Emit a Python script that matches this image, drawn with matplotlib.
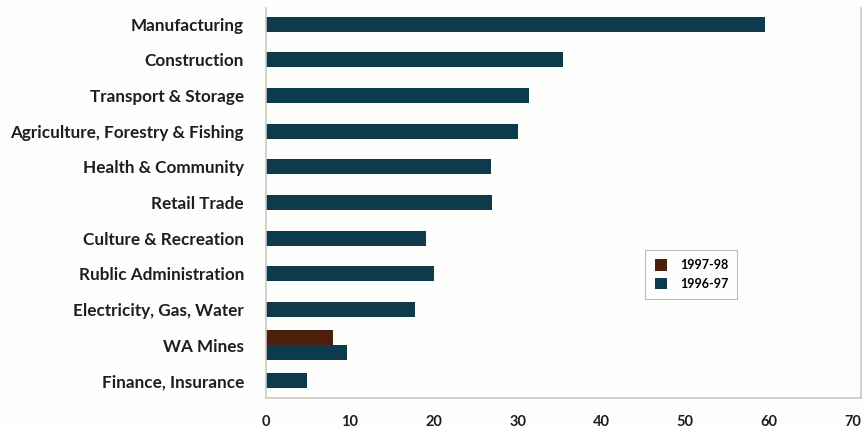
import numpy as np
import matplotlib.pyplot as plt

# Industry categories, top to bottom
industries = ['Manufacturing', 'Construction', 'Transport & Storage',
              'Agriculture, Forestry & Fishing', 'Health & Community',
              'Retail Trade', 'Culture & Recreation', 'Rublic Administration',
              'Electricity, Gas, Water', 'WA Mines', 'Finance, Insurance']
vals_9697 = [59.5, 35.4, 31.4, 30.1, 26.8, 26.9, 19.1, 20.0, 17.8, 9.7, 4.9]
# only WA Mines has a 1997-98 figure
mines_9798 = 8.0
xticks = [0, 10, 20, 30, 40, 50, 60, 70]

teal = '#0e3b4b'
brown = '#4b1f0c'
bg = '#fefefc'

plt.rcParams['font.family'] = ['Lato', 'DejaVu Sans']
plt.rcParams['font.weight'] = 'bold'

fig = plt.figure(figsize=(8.64, 4.29), dpi=100, facecolor=bg)
ax = fig.add_axes([0.308, 0.072, 0.689, 0.909])
ax.set_facecolor(bg)

y = np.arange(len(industries), dtype=float)
h = 0.42
mines = industries.index('WA Mines')
y_9697 = y.copy()
y_9697[mines] += h / 2

ax.barh(y_9697, vals_9697, height=h, color=teal, label='1996-97', zorder=2)
ax.barh([y[mines] - h / 2], [mines_9798], height=h, color=brown,
        label='1997-98', zorder=2)

ax.set_yticks(y)
ax.set_yticklabels(industries, fontsize=12.3, fontweight='bold', color='#1e1e1e')
ax.set_xticks(xticks)
ax.set_xticklabels([str(t) for t in xticks], fontsize=10.5, fontweight='bold',
                   color='#1e1e1e')
ax.tick_params(axis='x', length=0, pad=12)
ax.tick_params(axis='y', length=0, pad=16)
ax.set_xlim(0, 71)
ax.set_ylim(10.48, -0.45)

for s in ax.spines.values():
    s.set_color('#c8c8c4')
    s.set_linewidth(1.2)
ax.spines['top'].set_visible(False)

handles, labels = ax.get_legend_handles_labels()
leg = ax.legend(handles[::-1], labels[::-1], loc='upper left',
                bbox_to_anchor=(0.637, 0.38), borderaxespad=0, frameon=True,
                fancybox=False, edgecolor='#aaaaaa', handlelength=1.0,
                handleheight=1.0, borderpad=0.75, labelspacing=0.5,
                handletextpad=1.0, prop={'weight': 'bold', 'size': 9})
leg.get_frame().set_linewidth(0.8)

fig.savefig('out.png', dpi=100, facecolor=bg)
